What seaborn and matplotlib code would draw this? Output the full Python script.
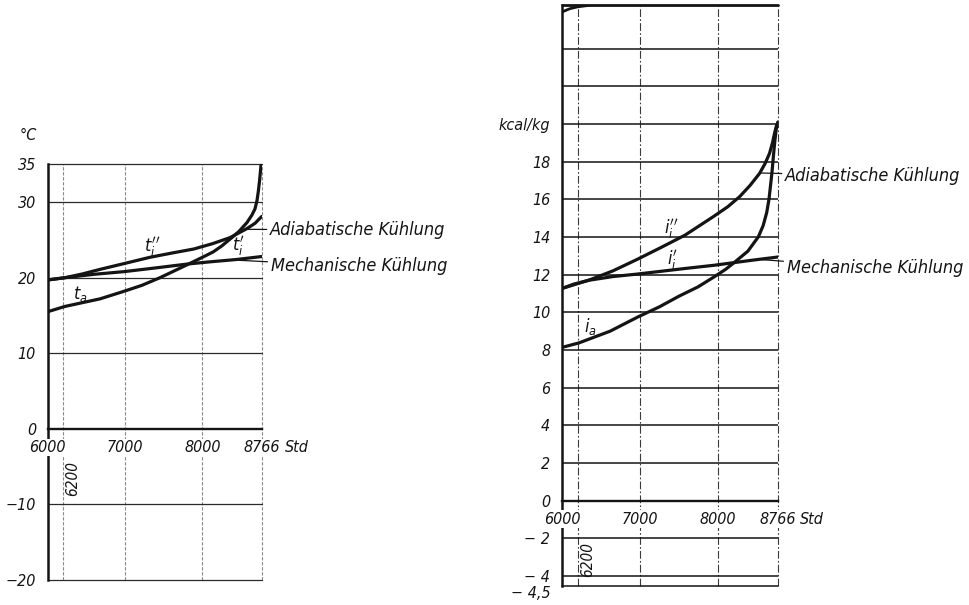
import matplotlib
matplotlib.use("Agg")
import matplotlib.pyplot as plt
import seaborn as sns

# --- hours of the year (x) -------------------------------------------------
hour_ticks = [6000, 7000, 8000, 8766]
hour_grid = [6200, 7000, 8000]

# --- left panel: temperatures in °C --------------------------------------
temp_hours_a = [6000, 6224, 6450, 6676, 6986, 7220, 7451, 7800, 8000, 8137, 8250,
                8356, 8470, 8576, 8640, 8679, 8705, 8722, 8740, 8757, 8766]
temp_a = [15.5, 16.2, 16.7, 17.2, 18.2, 19.0, 20.0, 21.7, 22.7, 23.4, 24.2,
          25.1, 26.1, 27.3, 28.3, 29.1, 30.2, 31.4, 33.0, 34.9, 36.2]
temp_hours_adiab = [6000, 6224, 6450, 6676, 7000, 7322, 7600, 7890, 8130, 8356,
                    8576, 8680, 8766]
temp_adiab = [19.7, 20.0, 20.5, 21.1, 21.9, 22.7, 23.25, 23.8, 24.5, 25.3,
              26.5, 27.2, 28.1]
temp_hours_mech = [6000, 6224, 6600, 6986, 7400, 7800, 8100, 8434, 8766]
temp_mech = [19.7, 20.0, 20.45, 20.8, 21.3, 21.8, 22.1, 22.4, 22.8]
temp_ticks = [35, 30, 20, 10, 0, -10, -20]
temp_tick_labels = ["35", "30", "20", "10", "0", "\u221210", "\u221220"]

# --- right panel: enthalpies in kcal/kg ---------------------------------
enth_hours_a = [6000, 6217, 6615, 6973, 7250, 7498, 7740, 7946, 8100, 8215, 8380,
                8514, 8575, 8621, 8650, 8673, 8690, 8706, 8725, 8745, 8766]
enth_a = [8.14, 8.38, 9.0, 9.76, 10.3, 10.86, 11.35, 11.88, 12.3, 12.68, 13.25,
          14.01, 14.6, 15.3, 16.0, 16.85, 17.5, 18.26, 19.1, 19.8, 20.1]
enth_hours_adiab = [6000, 6337, 6650, 6956, 7270, 7575, 7933, 8120, 8274, 8410,
                    8530, 8600, 8657, 8695, 8721, 8745, 8766]
enth_adiab = [11.27, 11.7, 12.2, 12.8, 13.45, 14.1, 15.07, 15.6, 16.14, 16.75,
              17.38, 17.9, 18.44, 19.0, 19.5, 19.9, 20.1]
enth_hours_mech = [6000, 6150, 6337, 6650, 6956, 7575, 7946, 8437, 8766]
enth_mech = [11.27, 11.5, 11.7, 11.9, 12.03, 12.33, 12.5, 12.77, 12.94]
enth_hours_top = [6000, 6100, 6200, 6350]
enth_top = [25.95, 26.12, 26.22, 26.3]
enth_ticks = [20, 18, 16, 14, 12, 10, 8, 6, 4, 2, 0, -2, -4, -4.5]
enth_tick_labels = ["kcal/kg", "18", "16", "14", "12", "10", "8", "6", "4", "2", "0",
                    "\u2212 2", "\u2212 4", "\u2212 4,5"]
enth_hlines = [24, 22, 20, 18, 16, 14, 12, 10, 8, 6, 4, 2, -2, -4]

sns.set_theme(style="white")
plt.rcParams["font.family"] = ["DejaVu Sans"]
plt.rcParams["font.style"] = "italic"
plt.rcParams["font.stretch"] = "condensed"
plt.rcParams["mathtext.fontset"] = "dejavusans"

INK = "#141414"
FS = 11.5
FS_NOTE = 13

fig = plt.figure(figsize=(9.7, 6.05), dpi=100)
ax1 = fig.add_axes([0.0492, 0.0413, 0.2206, 0.6871])
ax2 = fig.add_axes([0.5794, 0.0322, 0.2227, 0.9590])


def style_axes(ax, ylim, yticks, ylabels, vcolor, vstyle):
    ax.set_xlim(6000, 8766)
    ax.set_ylim(*ylim)
    ax.set_facecolor("white")
    for s in ("top", "right"):
        ax.spines[s].set_visible(False)
    ax.spines["left"].set_linewidth(1.8)
    ax.spines["left"].set_color(INK)
    ax.spines["left"].set_zorder(1)
    ax.spines["bottom"].set_position(("data", 0))
    ax.spines["bottom"].set_linewidth(1.7)
    ax.spines["bottom"].set_color(INK)
    ax.spines["bottom"].set_zorder(1)
    ax.set_xticks(hour_ticks)
    ax.set_xticklabels([str(h) for h in hour_ticks])
    ax.set_yticks(yticks)
    ax.set_yticklabels(ylabels)
    ax.tick_params(axis="x", length=0, pad=8, labelsize=FS, colors=INK)
    ax.tick_params(axis="y", length=0, pad=8.5, labelsize=FS, colors=INK)
    for lab in ax.get_xticklabels():
        lab.set_bbox(dict(facecolor="white", edgecolor="none", pad=1.0))
    ax.xaxis.set_zorder(3)
    ax.set_xlabel("")
    ax.set_ylabel("")
    # dashed vertical rulings and the dashed right border
    for h in hour_grid + [8766]:
        ax.axvline(h, color=vcolor, lw=0.8, ls=vstyle, zorder=0.8, clip_on=False)


def curve(ax, hours, vals, lw=2.3):
    sns.lineplot(x=hours, y=vals, ax=ax, color=INK, linewidth=lw,
                 estimator=None, sort=False, zorder=2)
    ax.lines[-1].set_solid_joinstyle("round")
    ax.lines[-1].set_solid_capstyle("round")


# ---------------- left panel ----------------
style_axes(ax1, (-20, 35), temp_ticks, temp_tick_labels, "#8a8a8a", (0, (3, 1.5)))
for v in [35, 30, 20, 10, -10, -20]:
    ax1.axhline(v, color="#2a2a2a", lw=0.9, zorder=0.9, clip_on=False)

curve(ax1, temp_hours_a, temp_a)
curve(ax1, temp_hours_adiab, temp_adiab)
curve(ax1, temp_hours_mech, temp_mech)

ax1.text(7344, 23.9, r"$t_i^{\prime\prime}$", fontsize=13, ha="center", va="center", color=INK)
ax1.text(8463, 24.0, r"$t_i^{\prime}$", fontsize=13, ha="center", va="center", color=INK)
ax1.text(6417, 17.9, r"$t_a$", fontsize=13, ha="center", va="center", color=INK)
ax1.text(-0.092, 1.07, "\u00b0C", transform=ax1.transAxes, fontsize=FS,
         ha="center", va="center", color=INK)
ax1.annotate("Std", xy=(8766, 0), xytext=(17, -8), textcoords="offset points",
             ha="left", va="top", fontsize=FS, color=INK, annotation_clip=False)
ax1.annotate("6200", xy=(6200, 0), xytext=(1.5, -23), textcoords="offset points",
             rotation=90, ha="left", va="top", fontsize=FS - 0.5, color=INK,
             annotation_clip=False)
ax1.annotate("Adiabatische Kühlung", xy=(8589, 26.4), xytext=(8873, 26.3),
             textcoords="data", ha="left", va="center", fontsize=FS_NOTE, color=INK,
             annotation_clip=False,
             arrowprops=dict(arrowstyle="-", lw=0.9, color=INK, shrinkA=0, shrinkB=0))
ax1.annotate("Mechanische Kühlung", xy=(8470, 22.3), xytext=(8882, 21.5),
             textcoords="data", ha="left", va="center", fontsize=FS_NOTE, color=INK,
             annotation_clip=False,
             arrowprops=dict(arrowstyle="-", lw=0.9, color=INK, shrinkA=0, shrinkB=0))

# ---------------- right panel ----------------
style_axes(ax2, (-4.5, 26.3), enth_ticks, enth_tick_labels, "#3a3a3a", (0, (7, 2, 1.5, 2)))
ax2.get_yticklabels()[-1].set_va("top")
for v in enth_hlines:
    ax2.axhline(v, color=INK, lw=1.1, zorder=0.9)
ax2.axhline(-4.5, color=INK, lw=1.1, zorder=0.9, clip_on=False)
ax2.axhline(26.3, color=INK, lw=2.0, zorder=0.9, clip_on=False)

curve(ax2, enth_hours_a, enth_a)
curve(ax2, enth_hours_adiab, enth_adiab)
curve(ax2, enth_hours_mech, enth_mech)
curve(ax2, enth_hours_top, enth_top, lw=2.0)

ax2.text(7405, 14.4, r"$i_i^{\prime\prime}$", fontsize=13, ha="center", va="center", color=INK)
ax2.text(7421, 12.75, r"$i_i^{\prime}$", fontsize=13, ha="center", va="center", color=INK)
ax2.text(6359, 9.24, r"$i_a$", fontsize=13, ha="center", va="center", color=INK)
ax2.annotate("Std", xy=(8766, 0), xytext=(16, -8), textcoords="offset points",
             ha="left", va="top", fontsize=FS, color=INK, annotation_clip=False)
ax2.annotate("6200", xy=(6200, 0), xytext=(2, -30), textcoords="offset points",
             rotation=90, ha="left", va="top", fontsize=FS - 0.5, color=INK,
             annotation_clip=False)
ax2.annotate("Adiabatische Kühlung", xy=(8536, 17.4), xytext=(8856, 17.25),
             textcoords="data", ha="left", va="center", fontsize=FS_NOTE, color=INK,
             annotation_clip=False,
             arrowprops=dict(arrowstyle="-", lw=0.9, color=INK, shrinkA=0, shrinkB=0))
ax2.annotate("Mechanische Kühlung", xy=(8557, 12.8), xytext=(8877, 12.35),
             textcoords="data", ha="left", va="center", fontsize=FS_NOTE, color=INK,
             annotation_clip=False,
             arrowprops=dict(arrowstyle="-", lw=0.9, color=INK, shrinkA=0, shrinkB=0))

fig.savefig("out.png", dpi=100, facecolor="white")
